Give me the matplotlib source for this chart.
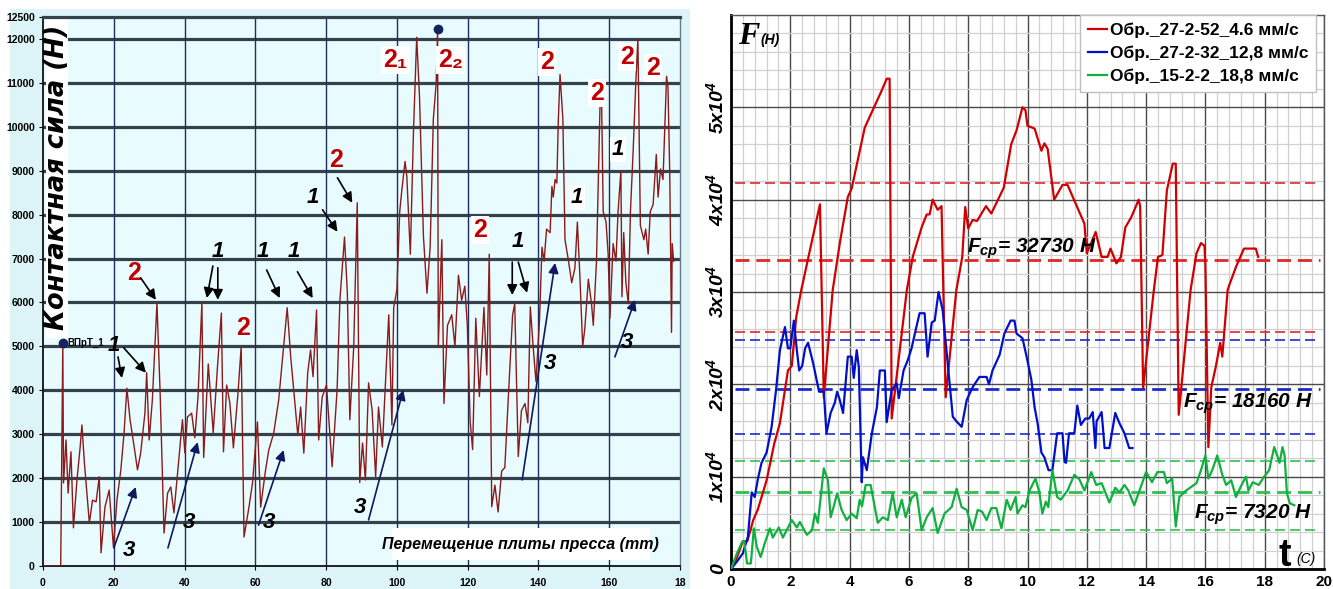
import matplotlib
matplotlib.use("Agg")
import matplotlib.pyplot as plt
from matplotlib.patches import Rectangle
from matplotlib.ticker import MultipleLocator

plt.rcParams["mathtext.fontset"] = "custom"
plt.rcParams["mathtext.rm"] = "Liberation Sans:bold:italic"
plt.rcParams["mathtext.it"] = "Liberation Sans:bold:italic"
plt.rcParams["mathtext.bf"] = "Liberation Sans:bold:italic"

# ---- left panel: contact force (N) vs press plate displacement (mm) ----
press_points = [
    (0, 0), (5.0, 0), (5.6, 5080), (5.8, 1890), (6.5, 2870), (7.1, 1660), (7.9, 2600),
    (8.6, 870), (9.6, 1960), (10.5, 2710), (11.0, 3210), (11.7, 2350), (13.1, 980),
    (14.0, 1500), (15.0, 1460), (15.9, 2030), (16.4, 300), (17.5, 1340), (18.7, 1730),
    (19.9, 430), (20.9, 1500), (22.0, 2190), (22.9, 3030), (23.7, 4050), (24.6, 3330),
    (25.6, 2800), (26.7, 2190), (27.6, 2570), (28.8, 3480), (29.3, 4400), (30.0, 2870),
    (30.9, 3780), (32.2, 5990), (33.1, 3940), (34.2, 750), (35.2, 1660), (36.1, 1800),
    (37.0, 1210), (38.2, 2260), (39.4, 3330), (40.1, 2570), (40.8, 3390), (42.0, 3480),
    (42.9, 2920), (43.8, 3850), (44.9, 5990), (45.4, 2470), (46.7, 4600), (48.1, 3030),
    (49.3, 4530), (50.4, 5760), (51.0, 2600), (51.9, 4120), (52.8, 3710), (53.8, 2690),
    (55.1, 3940), (56.0, 4990), (56.8, 660), (58.2, 1340), (59.2, 1890), (60.6, 3280),
    (61.5, 1340), (62.9, 2190), (63.8, 2640), (65.2, 3030), (66.6, 3780), (68.1, 5080),
    (69.0, 5880), (70.0, 4760), (71.1, 3780), (72.0, 2980), (72.8, 3620), (73.7, 2570),
    (74.8, 4400), (75.6, 4920), (76.3, 4310), (77.3, 5830), (77.9, 2870), (78.9, 3850),
    (80.1, 4120), (81.7, 2260), (83.1, 4010), (83.9, 6060), (85.2, 7490), (86.0, 6220),
    (86.7, 3330), (87.8, 4990), (88.8, 8270), (89.5, 1900), (90.3, 2800), (91.1, 1960),
    (92.0, 4170), (93.0, 3550), (94.0, 2030), (94.8, 3620), (95.9, 2710), (96.8, 4190),
    (97.7, 5720), (98.6, 3210), (99.1, 5890), (100.0, 6290), (100.8, 8070), (101.4, 8560),
    (102.3, 9210), (102.8, 8880), (103.8, 7100), (104.7, 9930), (105.6, 12040),
    (106.4, 10660), (107.5, 7510), (108.5, 6210), (109.4, 7260), (110.3, 10180),
    (111.1, 10990), (111.5, 12200), (111.7, 5000), (112.7, 7430), (113.3, 3700),
    (114.3, 5480), (115.5, 5720), (116.4, 5000), (117.4, 6620), (118.3, 6050), (119.2, 6370),
    (119.9, 5480), (120.7, 3300), (121.4, 2650), (122.3, 5640), (123.3, 3860), (124.6, 5890),
    (125.4, 4350), (126.1, 7100), (126.8, 1350), (127.7, 1840), (128.6, 1230), (129.6, 2160),
    (130.5, 2240), (131.5, 3860), (132.7, 5720), (133.3, 5970), (134.3, 2490), (135.2, 3540),
    (136.2, 3700), (137.0, 3260), (137.7, 5900), (138.5, 5000), (139.3, 4200), (140.3, 5600),
    (141.0, 7260), (141.6, 6940), (142.3, 7670), (143.3, 7590), (143.8, 8640), (144.2, 8400),
    (144.7, 8800), (145.2, 8720), (145.6, 10100), (146.1, 11190), (146.9, 10180),
    (147.5, 7430), (148.5, 6940), (149.4, 6450), (150.3, 6780), (151.0, 7830), (151.7, 6620),
    (152.5, 5000), (153.1, 5400), (154.1, 6530), (155.0, 5970), (155.5, 5480), (156.4, 6940),
    (157.4, 10500), (157.8, 10830), (158.3, 8070), (159.1, 7830), (159.7, 7100), (160.2, 5640),
    (161.1, 7340), (161.9, 6940), (162.5, 8070), (163.3, 9000), (163.6, 6130), (164.1, 7590),
    (164.7, 6450), (165.4, 5970), (166.0, 8070), (166.8, 9530), (167.5, 10990), (168.1, 12000),
    (168.8, 7750), (169.8, 7430), (170.3, 7670), (171.0, 7100), (171.6, 8070), (172.4, 8230),
    (173.3, 9370), (173.8, 8400), (174.5, 9040), (175.2, 8800), (176.2, 11150), (176.6, 10910),
    (177.1, 8960), (177.6, 5320), (177.8, 7340), (178.2, 6940),
]
press_mm = [p[0] for p in press_points]
press_force = [p[1] for p in press_points]
marker_mm = [5.6, 111.5]
marker_force = [5080, 12230]

left_yticks = [0, 1000, 2000, 3000, 4000, 5000, 6000, 7000, 8000, 9000, 10000, 11000, 12000, 12500]
left_xticks = [0, 20, 40, 60, 80, 100, 120, 140, 160, 180]
left_xlabels = ["0", "20", "40", "60", "80", "100", "120", "140", "160", "18"]

# labels: text, x (mm), y (N), colour, white box
stage_labels = [
    ("2", 25.7, 6674, "#c00000", False), ("1", 49.4, 7150, "black", False),
    ("1", 62.1, 7150, "black", False), ("1", 70.8, 7150, "black", False),
    ("1", 76.2, 8380, "black", False), ("2", 82.7, 9250, "#c00000", False),
    ("1", 20.0, 5030, "black", False), ("3", 24.3, 360, "black", False),
    ("3", 41.2, 980, "black", False), ("2", 56.4, 5420, "#c00000", False),
    ("3", 63.8, 980, "black", False), ("3", 89.7, 1340, "black", False),
    ("3", 143.3, 4620, "black", False), ("3", 165.0, 5100, "black", False),
    ("2\u2081", 99.6, 11530, "#c00000", True), ("2\u2082", 115.1, 11530, "#c00000", True),
    ("2", 123.6, 7650, "#c00000", True), ("1", 134.3, 7380, "black", False),
    ("2", 142.5, 11480, "#c00000", True), ("1", 150.9, 8380, "black", True),
    ("2", 156.6, 10770, "#c00000", True), ("1", 162.5, 9480, "black", True),
    ("2", 165.0, 11590, "#c00000", True), ("2", 172.4, 11340, "#c00000", True),
]
# arrows: tail x, tail y, head x, head y, colour
stage_arrows = [
    (27.6, 6560, 31.9, 6060, "black"), (48.0, 6830, 46.3, 6100, "black"),
    (49.4, 6790, 49.4, 6060, "black"), (63.2, 6740, 66.9, 6100, "black"),
    (71.9, 6700, 76.2, 6100, "black"), (79.0, 8110, 83.2, 7610, "black"),
    (83.2, 8840, 87.4, 8270, "black"), (21.2, 4760, 22.3, 4280, "black"),
    (22.8, 4970, 29.1, 4400, "black"), (132.6, 6920, 132.6, 6170, "black"),
    (134.3, 6920, 136.8, 6220, "black"),
    (20.0, 410, 26.2, 1800, "#0d1a5e"), (35.3, 410, 43.7, 2820, "#0d1a5e"),
    (60.9, 930, 68.0, 2640, "#0d1a5e"), (92.0, 1050, 101.8, 4010, "#0d1a5e"),
    (135.4, 1960, 144.7, 6900, "#0d1a5e"), (161.6, 4760, 167.3, 6060, "#0d1a5e"),
]

# ---- right panel: force (N) vs time (s) for three samples ----
red_points = [
    (0, 0), (0.17, 1000), (0.4, 3000), (0.55, 3000), (0.75, 5300), (0.9, 6400), (1.2, 9600),
    (1.46, 13600), (1.65, 15800), (1.82, 19400), (1.92, 21500), (2.05, 22000), (2.2, 27300),
    (2.37, 30200), (2.66, 34500), (3.0, 39500), (3.13, 18600), (3.43, 30200), (3.67, 35300),
    (3.94, 40300), (4.07, 41200), (4.51, 47800), (5.08, 51800), (5.25, 53100), (5.35, 53100),
    (5.42, 16300), (5.93, 30200), (6.13, 33800), (6.43, 37000), (6.6, 38400), (6.7, 38400),
    (6.8, 40000), (6.97, 38900), (7.1, 39300), (7.24, 18600), (7.6, 30200), (7.8, 33800),
    (7.9, 39200), (8.0, 36900), (8.15, 37800), (8.3, 37700), (8.45, 38500), (8.6, 39300),
    (8.78, 38500), (9.2, 41300), (9.45, 46000), (9.63, 47500), (9.83, 50000), (9.93, 49700),
    (10.0, 48000), (10.24, 47700), (10.47, 45300), (10.57, 46100), (10.68, 45500),
    (10.9, 40000), (11.18, 41600), (11.35, 41600), (11.92, 37400), (12.0, 34200),
    (12.3, 36500), (12.5, 33800), (12.7, 33800), (12.8, 34700), (13.0, 33100), (13.15, 33800),
    (13.3, 37000), (13.5, 38100), (13.75, 40000), (13.8, 39300), (13.9, 19600), (14.25, 29900),
    (14.4, 33800), (14.55, 34000), (14.7, 41000), (14.9, 43900), (15.0, 43900), (15.1, 16700),
    (15.5, 30200), (15.7, 34200), (15.85, 35300), (15.97, 35000), (16.0, 32700), (16.1, 13200),
    (16.2, 19700), (16.35, 21900), (16.5, 24500), (16.57, 23000), (16.75, 30200),
    (16.8, 30700), (17.03, 32700), (17.3, 34700), (17.7, 34700), (17.78, 33800),
]
blue_points = [
    (0, 0), (0.2, 800), (0.4, 1700), (0.57, 3500), (0.7, 8300), (0.8, 7800), (0.91, 9800),
    (1.03, 11500), (1.2, 12600), (1.37, 15400), (1.52, 19400), (1.65, 23700), (1.82, 26200),
    (1.92, 23900), (2.0, 23900), (2.12, 26900), (2.22, 23700), (2.3, 21500), (2.4, 22000),
    (2.5, 23900), (2.6, 24500), (2.77, 22300), (2.97, 19200), (3.13, 19200), (3.22, 14700),
    (3.36, 16900), (3.5, 18000), (3.58, 19200), (3.67, 18300), (3.78, 16900), (3.94, 23000),
    (4.07, 23000), (4.14, 20700), (4.24, 23700), (4.31, 21900), (4.41, 9400), (4.45, 12100),
    (4.58, 10700), (4.75, 14700), (4.92, 17500), (5.02, 21500), (5.19, 21500), (5.25, 15900),
    (5.42, 19400), (5.59, 20100), (5.66, 18500), (5.82, 21500), (5.96, 22600), (6.09, 23900),
    (6.23, 25900), (6.36, 27700), (6.53, 27700), (6.63, 23000), (6.77, 26700), (6.87, 26900),
    (7.0, 30000), (7.14, 28000), (7.34, 21200), (7.48, 16500), (7.6, 16000), (7.78, 15400),
    (7.95, 18300), (8.15, 19700), (8.38, 20800), (8.62, 20800), (8.7, 20000), (8.82, 21500),
    (9.06, 23200), (9.22, 25500), (9.43, 26900), (9.56, 26900), (9.63, 25500), (9.83, 25000),
    (9.97, 23000), (10.13, 20500), (10.24, 17500), (10.34, 15800), (10.47, 12600),
    (10.57, 12100), (10.71, 10700), (10.84, 10700), (11.0, 14700), (11.18, 14700),
    (11.25, 11600), (11.3, 11500), (11.4, 14700), (11.58, 14700), (11.68, 17700),
    (11.8, 15600), (11.95, 16300), (12.08, 16300), (12.2, 17000), (12.29, 13100),
    (12.33, 16000), (12.5, 17000), (12.6, 13100), (12.76, 13100), (12.96, 16900),
    (13.1, 15800), (13.27, 14700), (13.43, 13100), (13.54, 13100),
]
green_points = [
    (0, 0), (0.2, 1700), (0.37, 2900), (0.45, 3000), (0.54, 600), (0.67, 600), (0.77, 4400),
    (0.87, 2400), (1.0, 1300), (1.14, 2800), (1.31, 4400), (1.41, 3400), (1.61, 4500),
    (1.75, 3400), (2.05, 5300), (2.22, 4500), (2.32, 5100), (2.56, 3700), (2.73, 4200),
    (2.83, 6000), (2.93, 5000), (3.13, 10900), (3.27, 9600), (3.36, 5600), (3.45, 6600),
    (3.58, 8200), (3.73, 6400), (3.9, 5300), (4.07, 6000), (4.24, 5500), (4.34, 7500),
    (4.42, 6800), (4.54, 9100), (4.71, 9100), (4.85, 6700), (4.95, 5000), (5.12, 5600),
    (5.29, 5300), (5.45, 8200), (5.59, 5600), (5.76, 7500), (5.89, 5600), (6.09, 7700),
    (6.26, 8200), (6.43, 4200), (6.6, 5600), (6.8, 6600), (6.97, 3900), (7.2, 6000),
    (7.44, 6700), (7.61, 8700), (7.78, 6700), (7.95, 6400), (8.15, 4200), (8.32, 6400),
    (8.47, 6200), (8.62, 5300), (8.78, 6600), (8.95, 6600), (9.12, 4400), (9.3, 7500),
    (9.43, 6400), (9.6, 7800), (9.66, 6000), (9.83, 6900), (9.93, 6700), (10.07, 8500),
    (10.27, 9800), (10.4, 8300), (10.5, 6000), (10.62, 7300), (10.7, 6700), (10.84, 10700),
    (11.0, 7800), (11.12, 7500), (11.35, 8500), (11.58, 10200), (11.75, 9700), (11.92, 8500),
    (12.15, 10500), (12.32, 9100), (12.5, 9300), (12.76, 7200), (12.96, 8800), (13.1, 8300),
    (13.27, 9100), (13.4, 8500), (13.6, 6900), (14.0, 10500), (14.2, 9400), (14.38, 10500),
    (14.6, 10500), (14.7, 9300), (14.88, 9800), (15.0, 4600), (15.12, 7800), (15.35, 8500),
    (15.7, 9300), (15.85, 10700), (16.0, 12300), (16.1, 9800), (16.23, 10700), (16.4, 12300),
    (16.57, 10200), (16.7, 9100), (16.87, 9600), (17.03, 7800), (17.25, 9300), (17.37, 10000),
    (17.45, 8500), (17.6, 9400), (17.8, 9100), (17.98, 10000), (18.15, 10700), (18.32, 13200),
    (18.42, 12300), (18.5, 11500), (18.6, 13200), (18.67, 12300), (18.75, 8200),
    (18.85, 7100), (19.0, 6900),
]
series_labels = ["Обр._27-2-52_4.6 мм/с", "Обр._27-2-32_12,8 мм/с", "Обр._15-2-2_18,8 мм/с"]
series_colors = ["#d00000", "#0010c8", "#10b040"]

# mean (thick dash) and band (thin dash) levels per series
mean_levels = [33500, 19500, 8300]
band_levels = [(25650, 41800), (14600, 24800), (4200, 11700)]
dash_colors = ["#e02828", "#1a2ad0", "#30c050"]
mean_texts = ["$F_{ср}$= 32730 Н", "$F_{ср}$= 18160 Н", "$F_{ср}$= 7320 Н"]

right_yticks = [0, 10000, 20000, 30000, 40000, 50000]
right_ylabels = ["0", "1x10$^4$", "2x10$^4$", "3x10$^4$", "4x10$^4$", "5x10$^4$"]

W, H = 1333, 589
fig = plt.figure(figsize=(W / 100, H / 100), dpi=100)
fig.patches.append(Rectangle((10 / W, 0), 680 / W, 580 / H, transform=fig.transFigure,
                             facecolor="#dcf4f8", edgecolor="none", zorder=-5))

# ================= left panel =================
ax1 = fig.add_axes([43 / W, 23 / H, 637 / W, 549 / H])
ax1.set_facecolor("#e8fbfe")
ax1.set_xlim(0, 180)
ax1.set_ylim(0, 12500)
for v in left_yticks[1:-1]:
    ax1.axhline(v, color="#35414b", lw=2.3, zorder=1)
for v in left_xticks[1:-1]:
    ax1.axvline(v, color="#1f2d5c", lw=1.0, zorder=1)
ax1.plot(press_mm, press_force, color="#8b1a1a", lw=1.0, zorder=3)
ax1.plot(marker_mm, marker_force, "o", color="#16245e", ms=6, zorder=4)

ax1.set_yticks(left_yticks)
ax1.set_yticklabels([str(v) for v in left_yticks], fontsize=7.5, fontweight="bold",
                    family="Liberation Sans")
ax1.set_xticks(left_xticks)
ax1.set_xticklabels(left_xlabels, fontsize=7.5, fontweight="bold", family="Liberation Sans")
ax1.tick_params(axis="y", length=3, pad=3)
ax1.tick_params(axis="x", length=3, pad=6)
for side in ("left", "bottom"):
    ax1.spines[side].set_color("#111111")
    ax1.spines[side].set_linewidth(1.3)
ax1.spines["top"].set_color("#35414b")
ax1.spines["top"].set_linewidth(2.3)
ax1.spines["right"].set_color("#6a7a8a")
ax1.spines["right"].set_linewidth(1.0)

# white boxes behind the axis titles
ax1.add_patch(Rectangle((0.004, 0.415), 0.035, 0.585, transform=ax1.transAxes,
                        facecolor="white", edgecolor="none", zorder=2))
ax1.text(0.022, 0.708, "Контактная сила (Н)", transform=ax1.transAxes, rotation=90,
         ha="center", va="center", fontsize=18.5, fontweight="bold", style="italic", zorder=5)
ax1.add_patch(Rectangle((98.7, 140), 72.8, 730, facecolor="white", edgecolor="none", zorder=2))
ax1.text(135, 500, "Перемещение плиты пресса (mm)", ha="center", va="center", fontsize=11.5,
         fontweight="bold", style="italic", family="Liberation Sans", zorder=5)
ax1.text(6.8, 5080, "ВПрТ_1", ha="left", va="center", fontsize=7, fontweight="bold",
         family="Liberation Sans", zorder=5)

for txt, x, y, col, boxed in stage_labels:
    is_two = txt.startswith("2")
    kw = dict(ha="center", va="center", color=col, fontweight="bold", zorder=6,
              family=["Liberation Sans", "DejaVu Sans"],
              fontsize=18 if is_two else 16, style="normal" if is_two else "italic")
    if boxed:
        kw["bbox"] = dict(facecolor="white", edgecolor="none", pad=1.5)
    ax1.text(x, y, txt, **kw)
for x0, y0, x1, y1, col in stage_arrows:
    ax1.annotate("", xy=(x1, y1), xytext=(x0, y0), zorder=6,
                 arrowprops=dict(arrowstyle="-|>", color=col, lw=1.2, mutation_scale=15,
                                 shrinkA=0, shrinkB=0))

# ================= right panel =================
ax2 = fig.add_axes([731 / W, 20 / H, 593 / W, 554 / H])
ax2.set_xlim(0, 20)
ax2.set_ylim(0, 60000)
ax2.xaxis.set_major_locator(MultipleLocator(2))
ax2.xaxis.set_minor_locator(MultipleLocator(0.4))
ax2.yaxis.set_minor_locator(MultipleLocator(2000))
ax2.set_axisbelow(True)
ax2.grid(which="minor", color="#d0d0d0", lw=0.9)
ax2.grid(which="major", color="#4a4a4a", lw=1.0)

for (lo, hi), mean, col in zip(band_levels, mean_levels, dash_colors):
    for lvl in (lo, hi):
        ax2.hlines(lvl, 0.15, 19.85, colors=col, lw=1.2, linestyles=(0, (6, 3)), zorder=2)
    ax2.hlines(mean, 0.15, 19.85, colors=col, lw=2.0, linestyles=(0, (5, 2.5)), zorder=2)

for pts, lab, col in zip([red_points, blue_points, green_points], series_labels, series_colors):
    ax2.plot([p[0] for p in pts], [p[1] for p in pts], color=col, lw=1.6, label=lab, zorder=3)

ax2.set_yticks(right_yticks)
ax2.set_yticklabels(right_ylabels, rotation=90, va="center", fontsize=14, fontweight="bold",
                    style="italic", family="Liberation Sans")
ax2.set_xticks(range(0, 21, 2))
ax2.set_xticklabels([str(v) for v in range(0, 21, 2)], fontsize=11, fontweight="bold",
                    family="Liberation Sans")
ax2.tick_params(axis="both", which="minor", length=0)
ax2.tick_params(axis="y", which="major", length=0, pad=3)
ax2.tick_params(axis="x", which="major", length=0, pad=4)
for side in ("left", "bottom"):
    ax2.spines[side].set_color("black")
    ax2.spines[side].set_linewidth(2.0)
for side in ("top", "right"):
    ax2.spines[side].set_color("#555555")
    ax2.spines[side].set_linewidth(1.0)

leg = ax2.legend(loc="upper right", bbox_to_anchor=(0.9865, 1.0), borderaxespad=0,
                 prop=dict(family="Liberation Sans", weight="bold", size=12.5),
                 handlelength=1.1, handletextpad=0.15, borderpad=0.45, labelspacing=0.42,
                 fancybox=False, framealpha=1, edgecolor="#c0c0c0")
leg.get_frame().set_linewidth(1.0)

ax2.text(0.012, 0.962, "F", transform=ax2.transAxes, ha="left", va="center", fontsize=23,
         fontweight="bold", style="italic", family="Liberation Serif")
ax2.text(0.05, 0.955, "(Н)", transform=ax2.transAxes, ha="left", va="center", fontsize=10,
         fontweight="bold", style="italic", family="Liberation Sans")
ax2.text(0.924, 0.024, "t", transform=ax2.transAxes, ha="left", va="center", fontsize=27,
         fontweight="bold", family="Liberation Sans")
ax2.text(0.954, 0.018, "(С)", transform=ax2.transAxes, ha="left", va="center", fontsize=10,
         style="italic", family="Liberation Sans")

mean_text_pos = [(0.398, 0.578), (0.762, 0.298), (0.781, 0.098)]
for (x, y), txt in zip(mean_text_pos, mean_texts):
    ax2.text(x, y, txt, transform=ax2.transAxes, ha="left", va="center", fontsize=15,
             fontweight="bold", style="italic", family="Liberation Sans", zorder=5)

fig.savefig("out.png", dpi=100)
